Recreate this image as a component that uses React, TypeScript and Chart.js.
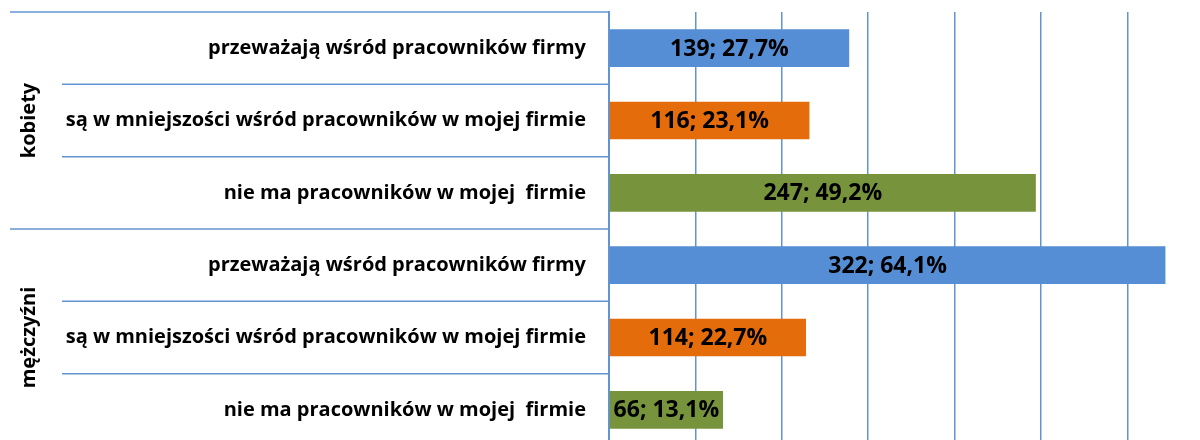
import React, { useEffect, useRef } from "react";
import { Chart, registerables } from "chart.js";

Chart.register(...registerables);

const categories = [
  "przeważają wśród pracowników firmy",
  "są w mniejszości wśród pracowników w mojej firmie",
  "nie ma pracowników w mojej  firmie",
  "przeważają wśród pracowników firmy",
  "są w mniejszości wśród pracowników w mojej firmie",
  "nie ma pracowników w mojej  firmie",
];
const groups = ["kobiety", "mężczyźni"];
const groupSize = 3;
const counts = [139, 116, 247, 322, 114, 66];
const percents = ["27,7%", "23,1%", "49,2%", "64,1%", "22,7%", "13,1%"];
const barColors = ["#558ED5", "#E46C0A", "#77933C", "#558ED5", "#E46C0A", "#77933C"];
const axisMax = 342;
const gridStep = 50;

const LINE = "#6394D2";
const FONT = "'Open Sans'";

const decorPlugin = {
  id: "decor",
  afterDraw(chart: any) {
    const { ctx, chartArea } = chart;
    const y = chart.scales.y;
    const left = chartArea.left;
    ctx.save();
    ctx.strokeStyle = LINE;
    ctx.lineWidth = 1.5;
    for (let i = 0; i <= categories.length; i++) {
      const py = y.getPixelForValue(i - 0.5);
      const startX = i % groupSize === 0 ? 10 : 62;
      ctx.beginPath();
      ctx.moveTo(startX, py);
      ctx.lineTo(left, py);
      ctx.stroke();
    }
    ctx.fillStyle = "#000";
    ctx.font = `bold 20px ${FONT}`;
    ctx.textAlign = "center";
    ctx.textBaseline = "middle";
    groups.forEach((g, gi) => {
      const y0 = y.getPixelForValue(gi * groupSize - 0.5);
      const y1 = y.getPixelForValue((gi + 1) * groupSize - 0.5);
      ctx.save();
      ctx.translate(29, (y0 + y1) / 2);
      ctx.rotate(-Math.PI / 2);
      ctx.fillText(g, 0, 0);
      ctx.restore();
    });
    const meta = chart.getDatasetMeta(0);
    ctx.font = `bold 23px ${FONT}`;
    meta.data.forEach((bar: any, i: number) => {
      const cx = (bar.x + bar.base) / 2;
      ctx.fillText(`${counts[i]}; ${percents[i]}`, cx, bar.y + 1);
    });
    ctx.restore();
  },
};

export default function App() {
  const ref = useRef<HTMLCanvasElement | null>(null);
  useEffect(() => {
    if (!ref.current) return;
    const chart = new Chart(ref.current, {
      type: "bar",
      data: {
        labels: categories,
        datasets: [
          {
            data: counts,
            backgroundColor: barColors,
            barPercentage: 0.52,
            categoryPercentage: 1,
          },
        ],
      },
      options: {
        indexAxis: "y",
        animation: false,
        responsive: true,
        maintainAspectRatio: false,
        layout: { padding: { top: 12, bottom: 6, left: 0, right: 0 } },
        plugins: { legend: { display: false }, tooltip: { enabled: false } },
        scales: {
          x: {
            min: 0,
            max: axisMax,
            ticks: { display: false, stepSize: gridStep, padding: 0 },
            afterBuildTicks: (s: any) => {
              s.ticks = s.ticks.filter((t: any) => t.value % gridStep === 0);
            },
            afterFit: (s: any) => {
              s.height = 0;
              s.paddingLeft = 0;
              s.paddingRight = 0;
            },
            grid: { color: LINE, lineWidth: 1.5, drawTicks: false },
            border: { display: false },
          },
          y: {
            grid: { display: false, drawTicks: false },
            border: { display: true, color: LINE, width: 2 },
            ticks: {
              color: "#000",
              padding: 23,
              font: { family: FONT, weight: "bold", size: 20 },
            },
            afterFit: (s: any) => {
              s.width = 609;
              s.paddingTop = 0;
              s.paddingBottom = 0;
            },
          },
        },
      },
      plugins: [decorPlugin],
    });
    return () => chart.destroy();
  }, []);
  return (
    <div style={{ position: "fixed", left: 0, top: 0, width: 1200, height: 440, overflow: "hidden", background: "#fff" }}>
      <div style={{ position: "relative", width: 1200, height: 452 }}>
        <canvas ref={ref} />
      </div>
    </div>
  );
}
